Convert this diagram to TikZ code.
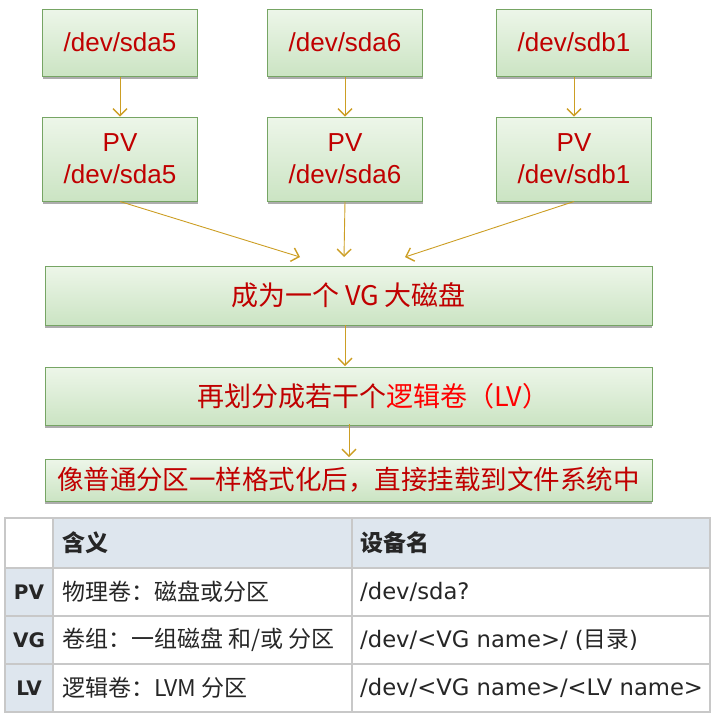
\documentclass[tikz,border=0pt]{standalone}
\usepackage{fontspec}
\setmainfont{Liberation Sans}
\newfontfamily\cjk{Noto Sans CJK SC}
\newfontfamily\tabfont{DejaVu Sans}
\usetikzlibrary{positioning,arrows.meta,shadows}

\definecolor{boxline}{RGB}{118,165,100}
\definecolor{boxtop}{RGB}{237,246,233}
\definecolor{boxbot}{RGB}{203,228,195}
\definecolor{darkred}{RGB}{192,0,0}
\definecolor{arrgold}{RGB}{204,158,36}
\definecolor{tabgrid}{RGB}{200,200,200}
\definecolor{tabhead}{RGB}{222,230,238}

\tikzset{
  devbox/.style={draw=boxline, line width=1pt, top color=boxtop, bottom color=boxbot,
    minimum width=155pt, minimum height=67pt, inner sep=0pt, align=center,
    text=darkred, font=\fontsize{26}{32}\selectfont,
    drop shadow={shadow xshift=0pt, shadow yshift=-2.5pt, fill=black!40, opacity=0.8}},
  pvbox/.style={devbox, minimum height=84pt},
  widebox/.style={devbox, minimum width=607pt, font=\cjk\fontsize{27}{31}\selectfont},
  arr/.style={draw=arrgold, line width=0.9pt,
    -{Straight Barb[length=7pt,width=14pt,line width=1.4pt]}},
  cell/.style={anchor=west, inner sep=0pt, text=black!85, font=\cjk\fontsize{23}{27}\selectfont},
  devcell/.style={cell, font=\tabfont\fontsize{22.7}{26}\selectfont},
  headcell/.style={cell, font=\cjk\bfseries\fontsize{23}{27}\selectfont},
  rowhead/.style={inner sep=0pt, text=black!85, font=\tabfont\bfseries\fontsize{20}{24}\selectfont},
}

\begin{document}
\begin{tikzpicture}[x=1pt, y=-1pt]
  \useasboundingbox (0,0) rectangle (722,724);

  % Define nodes
  \node[devbox] at (120,42.5)          (sda5) {/dev/sda5};
  \node[devbox, right=69pt of sda5]    (sda6) {/dev/sda6};
  \node[devbox, right=73pt of sda6]    (sdb1) {/dev/sdb1};
  \node[pvbox, below=40pt of sda5]     (pv5) {PV\\/dev/sda5};
  \node[pvbox, below=40pt of sda6]     (pv6) {PV\\/dev/sda6};
  \node[pvbox, below=40pt of sdb1]     (pvb1) {PV\\/dev/sdb1};

  \node[widebox, minimum height=59pt] at (348.5,295.5) (vg) {成为一个 VG 大磁盘};
  \node[widebox, minimum height=58pt, below=41pt of vg] (lv)
    {\hspace*{50pt}再划分成若干个{\color{red}逻辑卷（LV）}};
  \node[widebox, minimum height=42pt, below=33pt of lv, font=\cjk\fontsize{26.5}{30}\selectfont] (fs)
    {像普通分区一样格式化后，直接挂载到文件系统中};

  \coordinate (vgL) at (300,257);
  \coordinate (vgM) at (344,257);
  \coordinate (vgR) at (405,257);
  \coordinate (lvIn) at (345,366);
  \coordinate (vgOut) at (345,325);
  \coordinate (lvOut) at (349,424);
  \coordinate (fsIn) at (349,457);

  % Connect the nodes
  \draw[arr] (sda5) -- (pv5);
  \draw[arr] (sda6) -- (pv6);
  \draw[arr] (sdb1) -- (pvb1);
  \draw[arr] (pv5.south) -- (vgL);
  \draw[arr] (pv6.south) -- (vgM);
  \draw[arr] (pvb1.south) -- (vgR);
  \draw[arr] (vgOut) -- (lvIn);
  \draw[arr] (lvOut) -- (fsIn);

  % Table
  \fill[tabhead] (53,518) rectangle (710,568);
  \fill[tabhead] (5,568) rectangle (53,712);
  \draw[tabgrid, line width=1.5pt] (5,518) rectangle (710,712);
  \foreach \y in {568,616,664}
    \draw[tabgrid, line width=1.5pt] (5,\y) -- (710,\y);
  \foreach \x in {53,352}
    \draw[tabgrid, line width=1.5pt] (\x,518) -- (\x,712);

  \node[headcell] at (62,543)  (hMean) {含义};
  \node[headcell] at (360,543) (hDev) {设备名};

  \node[rowhead] at (29,592) (rPV) {PV};
  \node[rowhead] at (29,640) (rVG) {VG};
  \node[rowhead] at (29,688) (rLV) {LV};

  \node[cell] at (62,592) (mPV) {物理卷：磁盘或分区};
  \node[cell] at (62,640) (mVG) {卷组：一组磁盘 和/或 分区};
  \node[cell] at (62,688) (mLV) {逻辑卷：LVM 分区};

  \node[devcell] at (360,592) (dPV) {/dev/sda?};
  \node[devcell] at (360,640) (dVG) {/dev/<VG name>/ ({\cjk 目录})};
  \node[devcell] at (360,688) (dLV) {/dev/<VG name>/<LV name>};
\end{tikzpicture}
\end{document}
